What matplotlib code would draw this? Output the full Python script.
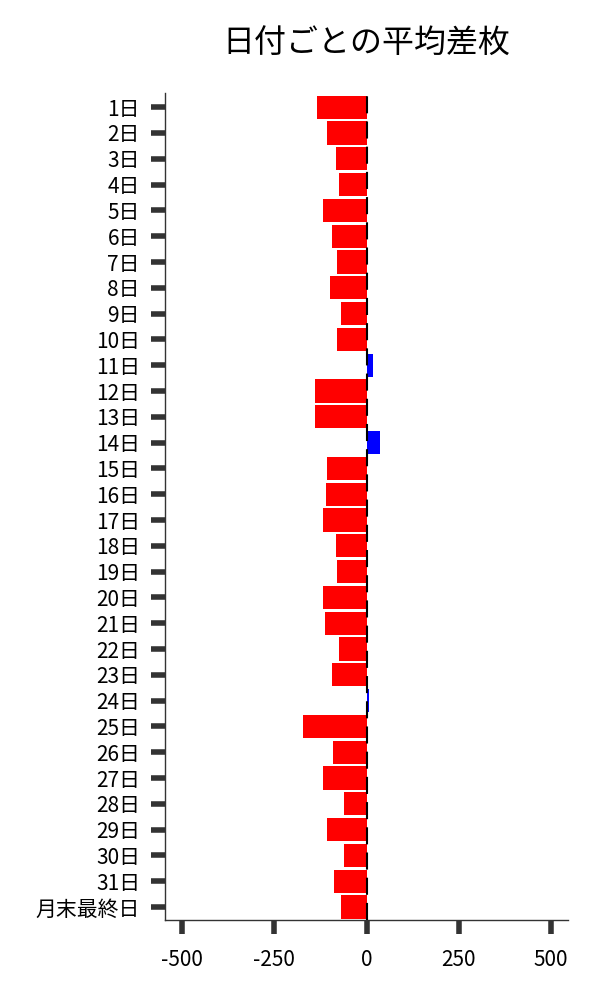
import matplotlib
matplotlib.use("Agg")
import matplotlib.pyplot as plt
import numpy as np

plt.rcParams['font.family'] = ['Noto Sans CJK JP', 'DejaVu Sans']

labels = [f"{i}日" for i in range(1, 32)] + ["月末最終日"]
values = [-133, -106, -84, -76, -117, -95, -79, -98, -70, -79,
          17, -141, -141, 35, -108, -111, -117, -84, -81, -119,
          -114, -76, -95, 7, -171, -91, -119, -60, -108, -62,
          -89, -70]
colors = ['blue' if v > 0 else 'red' for v in values]

fig = plt.figure(figsize=(6, 10), dpi=100)
ax = fig.add_axes([0.275, 0.08, 0.672, 0.827])

pos = np.arange(len(labels))
ax.barh(pos, values, height=0.9, color=colors, zorder=2)
ax.axvline(0, color='black', linewidth=1.5, dashes=(8.2, 3.9), zorder=3)

ax.set_yticks(pos)
ax.set_yticklabels(labels, fontsize=15)
ax.set_ylim(len(labels) - 0.5, -0.55)
ax.set_xlim(-546, 546)
ax.set_xticks([-500, -250, 0, 250, 500])
ax.set_xticklabels(['-500', '-250', '0', '250', '500'], fontsize=15)

ax.tick_params(axis='both', length=10, width=4, color='#333333')
ax.tick_params(axis='y', pad=8)
ax.tick_params(axis='x', pad=11)
for s in ['top', 'right']:
    ax.spines[s].set_visible(False)
for s in ['left', 'bottom']:
    ax.spines[s].set_color('#333333')
    ax.spines[s].set_linewidth(1)

fig.text(0.61, 0.956, '日付ごとの平均差枚', ha='center', va='center', fontsize=23)

fig.savefig('out.png', dpi=100)
